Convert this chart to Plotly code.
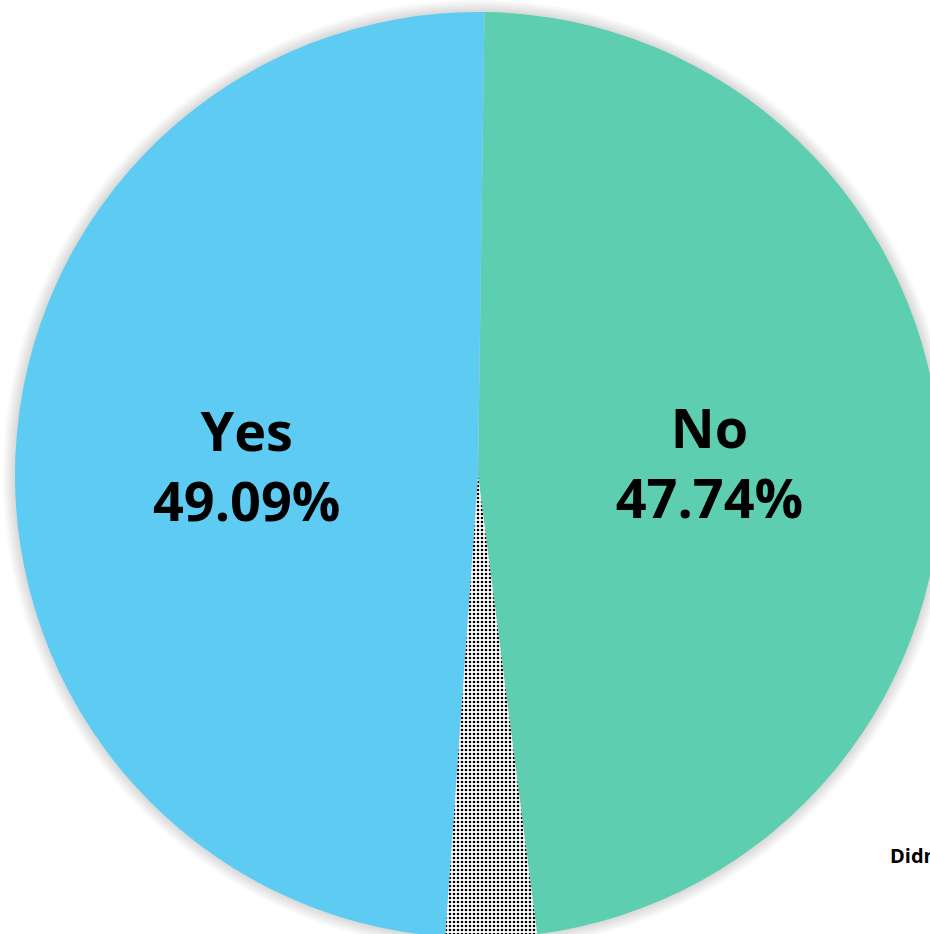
import plotly.graph_objects as go

# data
labels = ["No", "Didn't know", "Yes"]
values = [47.74, 3.17, 49.09]
colors = ["#5ECEB0", "#FFFFFF", "#5DCBF2"]
patterns = ["", ".", ""]
show_text = [True, False, True]

W, H = 960, 960
cx, cy, R = 478, 475, 463   # pie centre and radius in px


def dom(r):
    return dict(x=[(cx - r) / W, (cx + r) / W],
                y=[(H - cy - r) / H, (H - cy + r) / H])


fig = go.Figure()

# soft grey glow round the pie
for k in range(12, 0, -2):
    fig.add_trace(go.Pie(
        values=[1], labels=["shadow"], domain=dom(R + k), sort=False,
        marker=dict(colors=["rgba(0,0,0,0.022)"], line=dict(width=0)),
        textinfo="none", hoverinfo="skip", showlegend=False,
    ))

fig.add_trace(go.Pie(
    labels=labels,
    values=values,
    sort=False,
    direction="clockwise",
    rotation=0.8,
    domain=dom(R),
    marker=dict(colors=colors, line=dict(width=0),
                pattern=dict(shape=patterns, fgcolor="black", bgcolor="white",
                             size=4, solidity=0.35)),
    texttemplate=["%{label}<br>%{percent:.2%}" if s else "" for s in show_text],
    textposition="inside",
    insidetextorientation="horizontal",
    textfont=dict(family="Open Sans", size=54, color="black", weight="bold"),
    hoverinfo="skip",
    showlegend=False,
))

# label of the thin slice sits outside, running off the right edge
fig.add_annotation(
    text="<b>" + labels[1] + "</b>", x=888 / W, y=1 - 855 / H,
    xref="paper", yref="paper", xanchor="left", yanchor="middle",
    showarrow=False, font=dict(family="Open Sans", size=20, color="black"),
)

fig.update_layout(
    width=W, height=H,
    autosize=False,
    margin=dict(l=0, r=0, t=0, b=0),
    paper_bgcolor="white",
    plot_bgcolor="white",
)

fig.write_html(
    "out.html",
    config=dict(displayModeBar=False),
    post_script="document.body.style.margin='0';"
                "document.body.style.overflow='hidden';"
                "document.documentElement.style.overflow='hidden';",
)
